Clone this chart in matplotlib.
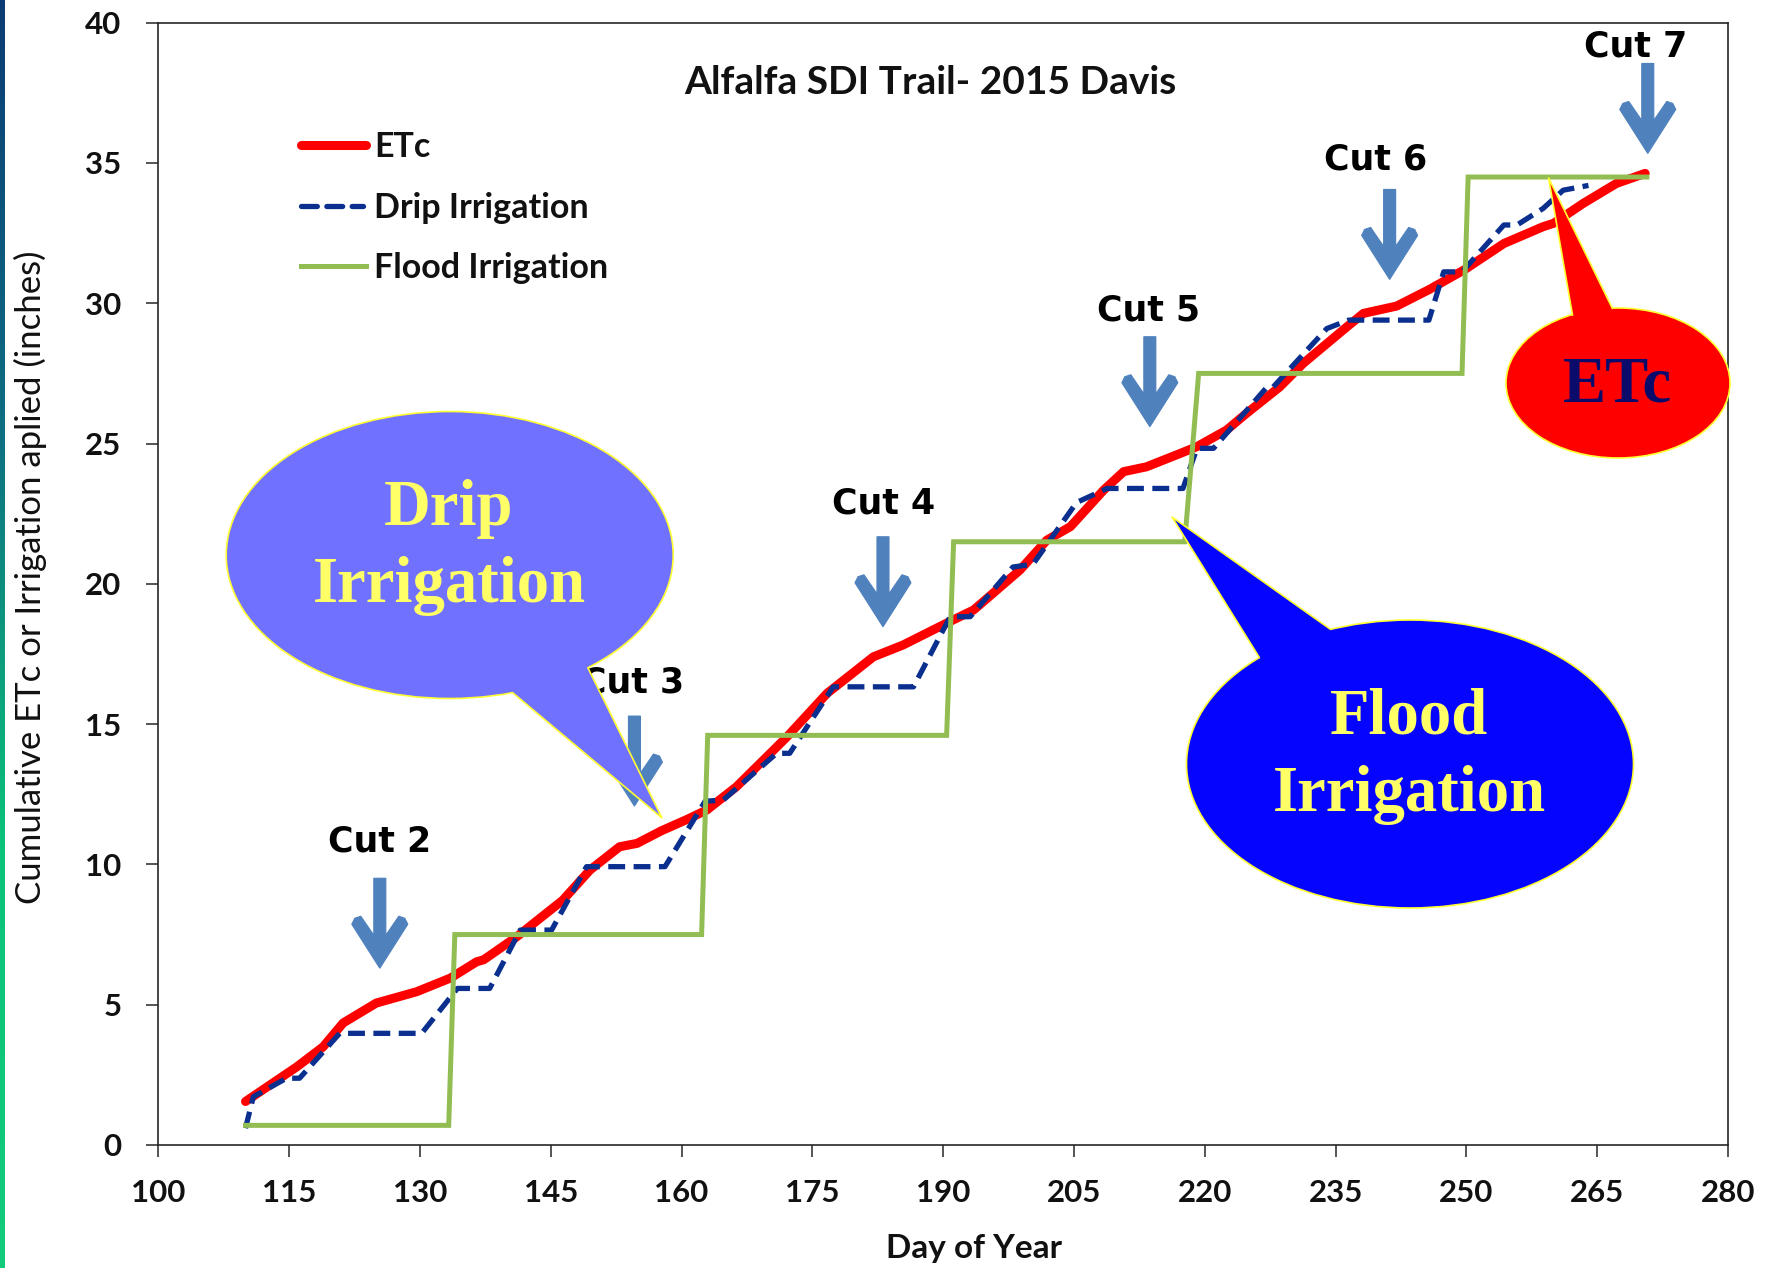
import numpy as np
import matplotlib
matplotlib.use("Agg")
import matplotlib.pyplot as plt
import matplotlib.transforms as mtransforms
from matplotlib.patches import Ellipse, Polygon
from matplotlib.lines import Line2D
from matplotlib.colors import LinearSegmentedColormap

# ---------------------------------------------------------------- data
# Cumulative crop evapotranspiration (inches) by day of year
etc_day = [110.0, 115.9, 118.9, 121.2, 125.0, 129.6, 133.5, 136.5, 137.3, 141.1,
           146.4, 149.5, 152.9, 154.9, 157.7, 160.6, 162.9, 166.3, 172.1, 176.7,
           182.0, 185.4, 190.4, 193.5, 198.8, 201.9, 204.6, 208.4, 210.7, 213.3,
           217.2, 219.1, 222.5, 224.8, 228.6, 231.3, 236.3, 238.2, 242.0, 245.8,
           249.8, 254.3, 258.8, 260.0, 263.4, 267.2, 270.5]
etc_in = [1.55, 2.79, 3.50, 4.35, 5.06, 5.46, 5.95, 6.53, 6.60, 7.42,
          8.73, 9.80, 10.63, 10.75, 11.20, 11.60, 11.94, 12.77, 14.55, 16.10,
          17.40, 17.82, 18.60, 19.07, 20.49, 21.56, 22.04, 23.34, 24.00, 24.17,
          24.65, 24.89, 25.48, 26.08, 27.02, 27.86, 29.16, 29.64, 29.90, 30.50,
          31.20, 32.13, 32.73, 32.85, 33.56, 34.27, 34.63]

# Cumulative drip irrigation applied (inches)
drip_day = [110.0, 110.9, 114.7, 116.2, 120.8, 130.2, 134.3, 138.0, 141.5, 145.1,
            149.1, 158.1, 162.7, 164.8, 170.9, 172.4, 177.4, 186.6, 190.8, 193.1,
            198.0, 200.3, 205.3, 208.8, 217.5, 219.1, 221.0, 227.1, 227.8, 234.0,
            236.5, 245.7, 247.4, 249.5, 254.3, 255.8, 258.8, 261.1, 264.0]
drip_in = [0.60, 1.72, 2.38, 2.38, 3.98, 3.98, 5.58, 5.58, 7.66, 7.66,
           9.92, 9.92, 12.25, 12.30, 13.96, 13.96, 16.33, 16.33, 18.83, 18.83,
           20.60, 20.70, 22.90, 23.40, 23.40, 24.83, 24.83, 27.00, 27.00, 29.10,
           29.40, 29.40, 31.12, 31.12, 32.79, 32.79, 33.38, 34.03, 34.20]

# Cumulative flood irrigation applied (inches)
flood_day = [110.0, 133.3, 134.0, 162.3, 163.0, 190.4, 191.2, 217.7, 219.3, 249.5, 250.2, 270.7]
flood_in = [0.7, 0.7, 7.5, 7.5, 14.6, 14.6, 21.5, 21.5, 27.5, 27.5, 34.5, 34.5]

series_names = ["ETc", "Drip Irrigation", "Flood Irrigation"]

# Alfalfa cuttings
cut_names = ["Cut 2", "Cut 3", "Cut 4", "Cut 5", "Cut 6", "Cut 7"]
cut_day = [125.4, 154.6, 183.1, 213.7, 241.2, 270.8]

x_ticks = list(range(100, 281, 15))
y_ticks = list(range(0, 41, 5))

title = "Alfalfa SDI Trail- 2015 Davis"
x_label = "Day of Year"
y_label = "Cumulative ETc or Irrigation aplied (inches)"

# ---------------------------------------------------------------- layout
W, H, DPI = 1775, 1268, 100
# arrow tip heights and label anchors (day, inches)
arrow_tip = [6.3, 12.08, 18.47, 25.6, 30.85, 35.34]
label_pos = [(125.4, 10.83), (154.4, 16.47), (183.2, 22.88),
             (213.6, 29.76), (239.6, 35.13), (269.4, 39.15)]

etc_style = dict(color="#FF0000", lw=6.5, solid_capstyle="round", solid_joinstyle="round")
drip_style = dict(color="#0A2F8E", lw=3.8, linestyle=(0, (3.2, 1.6)), dash_capstyle="butt")
flood_style = dict(color="#92BD52", lw=3.6, solid_joinstyle="miter")

sans = ["Lato", "DejaVu Sans"]
serif = ["Liberation Serif", "DejaVu Serif"]

fig = plt.figure(figsize=(W / DPI, H / DPI), dpi=DPI)
fig.patch.set_facecolor("white")

ax_l, ax_r, ax_t, ax_b = 158.3, 1728.0, 22.7, 1145.0
ax = fig.add_axes([ax_l / W, (H - ax_b) / H, (ax_r - ax_l) / W, (ax_b - ax_t) / H])

ax.plot(etc_day, etc_in, zorder=3, **etc_style)
ax.plot(drip_day, drip_in, zorder=4, **drip_style)
ax.plot(flood_day, flood_in, zorder=5, **flood_style)

ax.set_xlim(100, 280)
ax.set_ylim(0, 40)
ax.set_xticks(x_ticks)
ax.set_yticks(y_ticks)
ax.tick_params(direction="out", length=8.6, width=1.1, color="#262626", pad=16)
ax.tick_params(axis="y", pad=18)
for lab in ax.get_xticklabels() + ax.get_yticklabels():
    lab.set_fontfamily(sans)
    lab.set_fontweight("bold")
    lab.set_fontsize(22.5)
    lab.set_color("#111111")
for sp in ax.spines.values():
    sp.set_linewidth(1.2)
    sp.set_color("#262626")

ax.set_xlabel(x_label, fontsize=24, fontweight="bold", family=sans, color="#111111")
ax.xaxis.set_label_coords((973.5 - ax_l) / (ax_r - ax_l), (ax_b - 1248.6) / (ax_b - ax_t))
ax.xaxis.label.set_va("center")
ax.set_ylabel(y_label, fontsize=25, family=sans, color="#111111")
ax.yaxis.set_label_coords((30.6 - ax_l) / (ax_r - ax_l), (ax_b - 577) / (ax_b - ax_t))
ax.yaxis.label.set_va("center")

ax.text((930 - ax_l) / (ax_r - ax_l), (ax_b - 82.6) / (ax_b - ax_t), title,
        transform=ax.transAxes, ha="center", va="center", fontsize=28,
        fontweight="bold", family=sans, color="#111111")

# cutting arrows: drawn in pixel units about the arrow tip
arrow_px = np.array([(0, 0), (28, 44), (25, 50), (19, 52), (6, 33), (6, 90), (-6, 90),
                     (-6, 33), (-19, 52), (-25, 50), (-28, 44)], dtype=float)
for name, d, tip, (lx, ly) in zip(cut_names, cut_day, arrow_tip, label_pos):
    tr = (mtransforms.Affine2D().scale(1.0 / DPI) + fig.dpi_scale_trans
          + mtransforms.ScaledTranslation(d, tip, ax.transData))
    ax.add_patch(Polygon(arrow_px, closed=True, transform=tr, facecolor="#4F81BD",
                         edgecolor="#4F81BD", lw=0.8, zorder=6, clip_on=False))
    ax.text(lx, ly, name, ha="center", va="center", fontsize=25, fontweight="bold",
            family="DejaVu Sans", color="black", zorder=6)

# ---------------------------------------------------------------- overlay (pixel coordinates)
ov = fig.add_axes([0, 0, 1, 1], zorder=10)
ov.set_xlim(0, W)
ov.set_ylim(H, 0)
ov.axis("off")
ov.patch.set_alpha(0)

# slide border on the left edge
grad = np.linspace(0, 1, 256).reshape(-1, 1)
cmap = LinearSegmentedColormap.from_list("edge", ["#0B3B74", "#0E6E82", "#0BC27A", "#10CC7A"])
ov.imshow(grad, cmap=cmap, extent=[0, 5, H, 0], aspect="auto", zorder=1)

# legend
leg_rows = [145, 205.5, 266]
leg_styles = [etc_style, drip_style, flood_style]
for name, yrow, st in zip(series_names, leg_rows, leg_styles):
    st2 = dict(st)
    if st is drip_style:
        st2["dash_capstyle"] = "round"
        st2["linestyle"] = (0, (3.0, 1.8))
        xs = [301, 363]
    else:
        xs = [301, 366]
    ov.add_line(Line2D(xs, [yrow, yrow], **st2))
    ov.text(374, yrow + 12, name, fontsize=24.5, fontweight="bold", family=sans,
            color="#111111", ha="left", va="baseline")


def callout(center, size, base1, base2, tip, color, edge="#FFFF33"):
    ov.add_patch(Ellipse(center, size[0], size[1], facecolor=color, edgecolor=edge,
                         lw=1.2, zorder=2))
    b1, b2, t = np.array(base1, float), np.array(base2, float), np.array(tip, float)
    c = np.array(center, float)
    i1 = b1 + (c - b1) * 0.06
    i2 = b2 + (c - b2) * 0.06
    ov.add_patch(Polygon([b1, t, b2, i2, i1], closed=True, facecolor=color,
                         edgecolor="none", zorder=3))
    ov.add_line(Line2D([b1[0], t[0], b2[0]], [b1[1], t[1], b2[1]], color=edge,
                       lw=1.2, zorder=4))


callout_fs = 46.5
callout((449.7, 555), (447, 287), (513, 693), (588, 668), (662, 818), "#7171FF")
ov.text(449, 525, "Drip", ha="center", va="baseline", fontsize=callout_fs, fontweight="bold",
        family=serif, color="#FFFF66", zorder=5)
ov.text(449, 601.7, "Irrigation", ha="center", va="baseline", fontsize=callout_fs,
        fontweight="bold", family=serif, color="#FFFF66", zorder=5)

callout((1410, 764), (447, 288), (1259, 657), (1330, 629), (1172, 517), "#0505FF")
ov.text(1409, 734, "Flood", ha="center", va="baseline", fontsize=callout_fs, fontweight="bold",
        family=serif, color="#FFFF66", zorder=5)
ov.text(1409, 811, "Irrigation", ha="center", va="baseline", fontsize=callout_fs,
        fontweight="bold", family=serif, color="#FFFF66", zorder=5)

callout((1618, 383), (224, 150), (1572.5, 315), (1612.3, 308.3), (1548.6, 178), "#FF0000")
ov.text(1617, 401.7, "ETc", ha="center", va="baseline", fontsize=46.5, fontweight="bold",
        family=serif, color="#0B0B6B", zorder=5)

fig.savefig("out.png", dpi=DPI, facecolor="white")
